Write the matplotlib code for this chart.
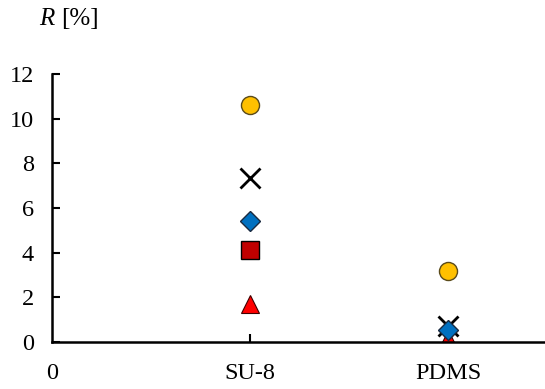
import matplotlib.pyplot as plt

materials = ['SU-8', 'PDMS']
x_pos = [1, 2]

circle_vals = [10.6, 3.2]
cross_vals = [7.35, 0.7]
diamond_vals = [5.4, 0.55]
square_vals = [4.1, float('nan')]  # not visible for PDMS
triangle_vals = [1.7, 0.15]

plt.rcParams['font.family'] = ['Liberation Serif', 'DejaVu Serif']

fig = plt.figure(figsize=(5.45, 3.89), dpi=100)
ax = fig.add_axes([52 / 545, 47 / 389, 493 / 545, 268 / 389])

ax.plot(x_pos, circle_vals, 'o', ms=13, mfc='#FFC000', mec='#5a4a1a', mew=1, ls='none', zorder=3)
ax.plot(x_pos, cross_vals, 'x', ms=15, mec='black', mew=2, ls='none', zorder=3)
ax.plot(x_pos, square_vals, 's', ms=12.5, mfc='#C00000', mec='black', mew=1, ls='none', zorder=3)
ax.plot(x_pos, triangle_vals, '^', ms=13, mfc='#FF0000', mec='#400000', mew=0.8, ls='none', zorder=3)
ax.plot(x_pos, diamond_vals, 'D', ms=10, mfc='#0070C0', mec='#1a2a40', mew=1, ls='none', zorder=4)

ax.set_xlim(0, 2.49)
ax.set_ylim(0, 12)
ax.set_yticks(range(0, 13, 2))
ax.set_xticks([0, 1, 2])
ax.set_xticklabels(['0'] + materials)

for s in ['top', 'right']:
    ax.spines[s].set_visible(False)
for s in ['left', 'bottom']:
    ax.spines[s].set_linewidth(1.8)
    ax.spines[s].set_zorder(5)

ax.tick_params(axis='y', direction='in', length=6, width=1.5, labelsize=17.5, pad=13)
ax.tick_params(axis='x', direction='in', length=6, width=1.5, labelsize=17.5, pad=15)
ax.get_xticklines()[0].set_visible(False)
ax.get_xticklines()[1].set_visible(False)

fig.text(39 / 545, 1 - 19 / 389, 'R', fontsize=18, style='italic', va='center', ha='left')
fig.text(61 / 545, 1 - 19 / 389, '[%]', fontsize=18, va='center', ha='left')

fig.savefig('out.png', dpi=100)
